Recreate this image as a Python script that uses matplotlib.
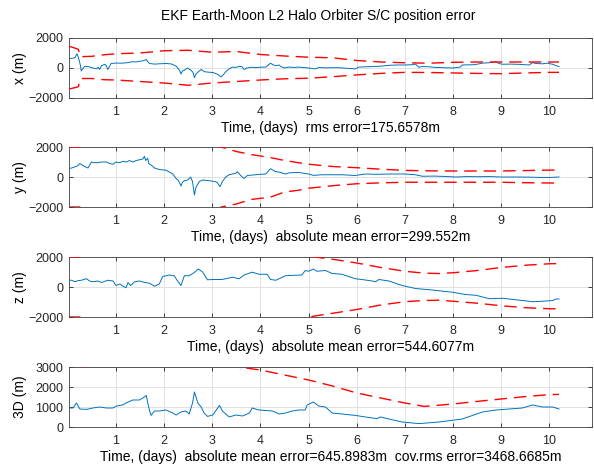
import matplotlib
matplotlib.use("Agg")
import matplotlib.pyplot as plt
import numpy as np

plt.rcParams['font.family'] = ['Liberation Sans', 'DejaVu Sans']

# ---- x error ----
t_x = [0.00, 0.11, 0.15, 0.19, 0.21, 0.23, 0.26, 0.28, 0.32, 0.35,
       0.42, 0.52, 0.60, 0.63, 0.66, 0.70, 0.77, 0.80, 0.83, 0.90,
       1.00, 1.10, 1.20, 1.28, 1.35, 1.42, 1.49, 1.56, 1.63, 1.66,
       1.70, 1.80, 1.90, 2.04, 2.15, 2.25, 2.32, 2.35, 2.38, 2.42,
       2.49, 2.53, 2.56, 2.60, 2.63, 2.66, 2.73, 2.77, 2.84, 2.93,
       3.01, 3.08, 3.13, 3.18, 3.23, 3.28, 3.35, 3.42, 3.49, 3.56,
       3.62, 3.66, 3.72, 3.80, 3.90, 4.00, 4.11, 4.21, 4.27, 4.32,
       4.39, 4.42, 4.50, 4.58, 4.70, 4.80, 4.90, 5.00, 5.14, 5.21,
       5.35, 5.50, 5.62, 5.80, 5.97, 6.04, 6.20, 6.35, 6.50, 6.67,
       6.85, 7.00, 7.15, 7.22, 7.29, 7.36, 7.50, 7.64, 7.80, 7.99,
       8.15, 8.19, 8.30, 8.45, 8.60, 8.75, 8.89, 8.95, 9.03, 9.20,
       9.40, 9.58, 9.65, 9.72, 9.86, 9.95, 10.07, 10.14, 10.20]
err_x = [620, 650, 700, 950, 780, 600, 200, -200, 0, 100,
         100, 0, -50, 50, -100, 150, 250, 150, -100, 300,
         330, 320, 340, 380, 420, 400, 450, 480, 560, 420,
         300, 260, 280, 300, 270, 120, -150, -400, -200, -150,
         0, -100, -150, -300, -650, -400, -200, -100, -250, -280,
         -300, -380, -450, -600, -450, -250, -50, 60, 40, 120,
         80, -100, 0, 50, 30, 50, 60, 320, 200, 150,
         200, 100, 0, 60, 40, 60, 30, 0, -60, 30,
         10, 20, 20, -20, -60, 60, 80, 100, 120, 180,
         200, 200, 220, 260, 50, 100, 80, 40, 20, 0,
         60, 200, 210, 220, 320, 350, 420, 300, 250, 260,
         240, 200, 360, 300, 280, 320, 250, 150, 100]
tb_x = [0.03, 0.22, 0.26, 0.5, 0.75, 1.0, 1.5, 2.0, 2.5, 3.0, 3.5, 4.0, 4.5,
        5.0, 5.5, 6.0, 6.5, 7.0, 7.5, 8.0, 8.5, 9.0, 9.5, 10.0, 10.2]
up_x = [1450, 1250, 750, 780, 880, 950, 1000, 1150, 1180, 1050, 1100, 900, 800,
        720, 680, 500, 400, 350, 320, 380, 400, 400, 400, 400, 400]
lo_x = [-1400, -1250, -700, -700, -780, -800, -900, -1000, -1150, -1000, -900, -800, -720,
        -680, -580, -460, -360, -290, -300, -330, -360, -380, -330, -290, -290]

# ---- y error ----
t_y = [0.00, 0.08, 0.15, 0.21, 0.25, 0.30, 0.35, 0.42, 0.49, 0.55,
       0.62, 0.70, 0.80, 0.87, 0.94, 1.00, 1.07, 1.15, 1.22, 1.28,
       1.35, 1.42, 1.49, 1.56, 1.59, 1.62, 1.66, 1.68, 1.73, 1.80,
       1.90, 2.04, 2.10, 2.18, 2.25, 2.30, 2.35, 2.38, 2.42, 2.49,
       2.55, 2.59, 2.63, 2.66, 2.73, 2.80, 2.94, 3.05, 3.10, 3.16,
       3.21, 3.28, 3.35, 3.42, 3.49, 3.52, 3.59, 3.66, 3.73, 3.90,
       4.00, 4.11, 4.21, 4.30, 4.42, 4.52, 4.60, 4.80, 5.00, 5.10,
       5.28, 5.50, 5.70, 5.97, 6.18, 6.40, 6.70, 7.00, 7.20, 7.36,
       7.60, 7.80, 8.06, 8.30, 8.50, 8.75, 9.00, 9.30, 9.60, 9.80,
       10.00, 10.20]
err_y = [550, 600, 680, 750, 900, 800, 700, 600, 1000, 950,
         950, 1000, 1000, 900, 850, 1000, 950, 1050, 1000, 1100,
         1000, 1100, 1150, 1200, 1380, 1100, 1250, 900, 800, 600,
         500, 450, 350, 200, -100, -250, -600, -350, -250, -200,
         0, -300, -1200, -700, -300, -200, -250, -300, -350, -650,
         -300, 0, 150, 200, 250, 350, 100, -100, 100, 150,
         180, 200, 550, 380, 300, 200, 280, 300, 200, 110,
         150, 150, 150, 100, 200, 180, 200, 200, 160, 50,
         60, 40, 0, 30, 20, 30, 0, 0, -10, -30,
         -30, 0]
tb_y = [0.03, 0.25, 0.3, 3.0, 3.18, 3.5, 3.8, 4.2, 4.5, 4.8, 5.0,
        5.5, 6.0, 6.5, 7.0, 7.5, 8.0, 8.5, 9.0, 9.5, 10.0, 10.2]
up_y = [2000, 2000, 4000, 4000, 2000, 1700, 1500, 1300, 1100, 950, 850,
        700, 620, 520, 440, 410, 400, 400, 400, 430, 460, 460]
lo_y = [-2000, -2000, -4000, -4000, -2000, -1800, -1500, -1350, -1000, -880, -750,
        -580, -450, -390, -350, -350, -350, -350, -350, -380, -400, -400]

# ---- z error ----
t_z = [0.00, 0.08, 0.15, 0.21, 0.28, 0.39, 0.45, 0.52, 0.62, 0.70,
       0.83, 0.94, 1.00, 1.08, 1.15, 1.21, 1.25, 1.30, 1.39, 1.49,
       1.60, 1.70, 1.80, 1.90, 1.97, 2.11, 2.21, 2.28, 2.35, 2.42,
       2.52, 2.62, 2.71, 2.80, 2.90, 3.01, 3.20, 3.42, 3.56, 3.66,
       3.83, 3.97, 4.14, 4.21, 4.32, 4.42, 4.52, 4.70, 4.86, 4.93,
       5.00, 5.10, 5.17, 5.35, 5.49, 5.69, 5.97, 6.15, 6.32, 6.39,
       6.46, 6.67, 6.94, 7.22, 7.57, 7.99, 8.26, 8.47, 8.75, 9.03,
       9.44, 9.65, 9.86, 10.07, 10.14, 10.20]
err_z = [450, 450, 350, 420, 450, 550, 400, 350, 400, 300,
         450, 400, 100, 200, 50, -50, 300, 100, 350, 400,
         300, 250, 50, 200, 700, 800, 750, 400, 100, 750,
         750, 950, 1200, 1000, 480, 500, 500, 650, 550, 800,
         990, 850, 850, 500, 450, 600, 750, 780, 800, 1100,
         1050, 1200, 1050, 1100, 900, 850, 550, 480, 400, 350,
         500, 400, 100, -100, -200, -350, -500, -550, -780, -750,
         -900, -980, -950, -900, -800, -800]
tb_z = [0.03, 0.25, 0.3, 4.8, 5.0, 5.5, 6.0, 6.5, 7.0, 7.4, 7.7,
        8.0, 8.5, 9.0, 9.5, 10.0, 10.2]
up_z = [2000, 2000, 4000, 4000, 2050, 1850, 1600, 1300, 1050, 920, 900,
        950, 1100, 1300, 1450, 1550, 1560]
lo_z = [-2000, -2000, -4000, -4000, -2000, -1750, -1500, -1200, -980, -900, -880,
        -950, -1080, -1250, -1380, -1450, -1450]

# ---- 3D error ----
t_3d = [0.00, 0.11, 0.18, 0.25, 0.39, 0.52, 0.66, 0.80, 0.94, 1.01,
        1.14, 1.21, 1.35, 1.49, 1.59, 1.63, 1.66, 1.70, 1.73, 1.80,
        1.90, 2.04, 2.18, 2.25, 2.35, 2.45, 2.52, 2.59, 2.63, 2.70,
        2.77, 2.83, 2.90, 3.01, 3.15, 3.21, 3.35, 3.49, 3.63, 3.77,
        3.83, 3.97, 4.25, 4.39, 4.52, 4.66, 4.80, 4.93, 4.97, 5.10,
        5.21, 5.35, 5.49, 5.97, 6.32, 6.42, 6.49, 6.94, 7.29, 7.71,
        8.19, 8.61, 8.89, 9.17, 9.44, 9.65, 9.86, 10.07, 10.20]
err_3d = [950, 950, 1200, 900, 880, 950, 1000, 950, 950, 1050,
          1100, 1200, 1350, 1350, 1500, 1580, 1200, 800, 580, 800,
          800, 850, 700, 600, 750, 800, 650, 1200, 1750, 1200,
          1000, 700, 530, 600, 1080, 800, 500, 600, 550, 700,
          950, 850, 800, 650, 700, 800, 850, 850, 1100, 1250,
          1050, 1000, 700, 580, 450, 420, 500, 250, 170, 250,
          400, 750, 850, 900, 950, 1100, 1000, 1000, 900]
tb_3d = [0.03, 0.2, 0.3, 0.4, 0.5, 3.6, 3.7, 4.0, 4.5, 5.0, 5.5, 6.0,
         6.5, 7.0, 7.4, 8.0, 8.5, 9.0, 9.5, 10.0, 10.2]
up_3d = [3500, 3050, 2950, 3050, 3500, 3500, 2950, 2850, 2600, 2350, 2050, 1700,
         1450, 1200, 1030, 1150, 1280, 1400, 1520, 1620, 1630]

ylabels = ['x (m)', 'y (m)', 'z (m)', '3D (m)']
xlabels = ['Time, (days)  rms error=175.6578m',
           'Time, (days)  absolute mean error=299.552m',
           'Time, (days)  absolute mean error=544.6077m',
           'Time, (days)  absolute mean error=645.8983m  cov.rms error=3468.6685m']
title = 'EKF Earth-Moon L2 Halo Orbiter S/C position error'

blue = '#0072BD'
red = '#FF0000'
dark = '#262626'

fig = plt.figure(figsize=(5.94, 4.68), dpi=100)
W, H = 594, 468
tops = [38, 147, 257, 367]
axes = [fig.add_axes([69 / W, 1 - (t + 60) / H, 523 / W, 60 / H]) for t in tops]

series = [
    (t_x, err_x, [(tb_x, up_x), (tb_x, lo_x)], (-2000, 2000), [-2000, 0, 2000]),
    (t_y, err_y, [(tb_y, up_y), (tb_y, lo_y)], (-2000, 2000), [-2000, 0, 2000]),
    (t_z, err_z, [(tb_z, up_z), (tb_z, lo_z)], (-2000, 2000), [-2000, 0, 2000]),
    (t_3d, err_3d, [(tb_3d, up_3d)], (0, 3000), [0, 1000, 2000, 3000]),
]

for i, (ax, (t, e, bounds, ylim, yticks)) in enumerate(zip(axes, series)):
    ax.plot(t, e, color=blue, lw=0.7, zorder=3)
    for tb, b in bounds:
        ax.plot(tb, b, color=red, lw=1.0, dashes=(9, 5), zorder=4)
    ax.set_xlim(0.025, 10.885)
    ax.set_ylim(*ylim)
    ax.set_xticks(np.arange(1, 11))
    ax.set_yticks(yticks)
    ax.grid(True, color='#dcdcdc', lw=0.6)
    ax.set_axisbelow(True)
    ax.tick_params(direction='in', top=True, right=True, length=3,
                   labelsize=9, colors=dark, width=0.6)
    ax.tick_params(axis='x', pad=6)
    ax.tick_params(axis='y', pad=4)
    for s in ax.spines.values():
        s.set_color('#404040')
        s.set_linewidth(0.6)
    ax.set_xlabel(xlabels[i], fontsize=10, color='black', labelpad=2)
    ax.set_ylabel(ylabels[i], fontsize=10, color='black')
    ax.yaxis.set_label_coords(-42 / 523, 0.5)

fig.text(318 / W, 1 - 16 / H, title, ha='center', va='center', fontsize=10)

fig.savefig('out.png', dpi=100)
